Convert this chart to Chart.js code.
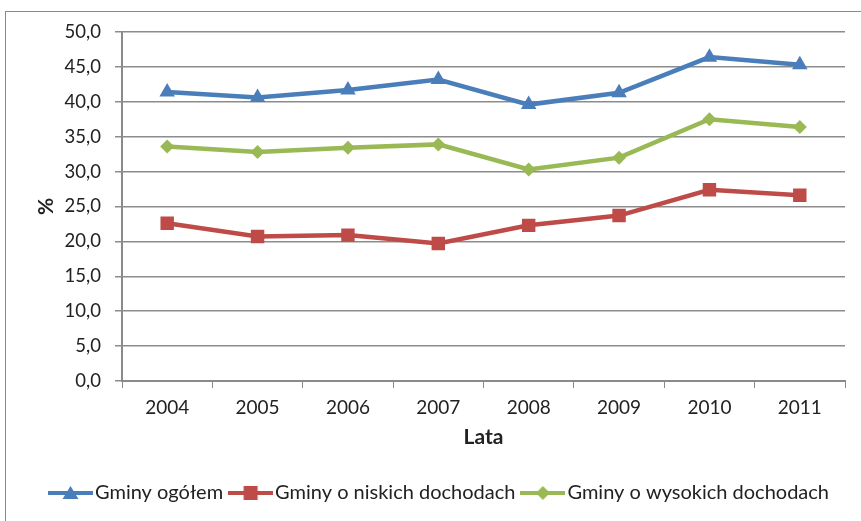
<!DOCTYPE html>
<html>
<head>
<meta charset="utf-8">
<script src="https://cdn.jsdelivr.net/npm/chart.js@4"></script>
<style>
  body { margin: 0; background: #fff; }
  #wrap { position: absolute; left: 0; top: 0; width: 861px; height: 521px; }
</style>
</head>
<body>
<div id="wrap"><canvas id="linechart" width="861" height="521"></canvas></div>
<script>
const years = ['2004', '2005', '2006', '2007', '2008', '2009', '2010', '2011'];
const ogolem = [41.4, 40.6, 41.7, 43.2, 39.6, 41.3, 46.4, 45.3];
const niskie = [22.6, 20.7, 20.9, 19.7, 22.3, 23.7, 27.4, 26.6];
const wysokie = [33.6, 32.8, 33.4, 33.9, 30.3, 32.0, 37.5, 36.4];

const font = "Lato, 'Open Sans', sans-serif";

// legend symbol: short line with marker in the middle
function legendIcon(color, shape) {
    const c = document.createElement('canvas');
    c.width = 45; c.height = 16;
    const g = c.getContext('2d');
    g.strokeStyle = color; g.fillStyle = color; g.lineWidth = 4;
    g.beginPath(); g.moveTo(0, 8); g.lineTo(45, 8); g.stroke();
    g.beginPath();
    if (shape === 'triangle') { g.moveTo(22.5, 1); g.lineTo(30.5, 14); g.lineTo(14.5, 14); g.closePath(); }
    else if (shape === 'rect') { g.rect(15.5, 1, 14, 14); }
    else { g.moveTo(22.5, 1); g.lineTo(29.5, 8); g.lineTo(22.5, 15); g.lineTo(15.5, 8); g.closePath(); }
    g.fill();
    return c;
}

const frame = {
    id: 'frame',
    beforeDraw(chart) {
        const g = chart.ctx;
        g.save();
        g.strokeStyle = '#8a8a8a'; g.lineWidth = 1;
        g.strokeRect(5.5, 11.5, 900, 600);
        g.restore();
    },
    afterLayout(chart) {
        // legend sits a little right of centre in the original
        chart.legend.left += 20;
        chart.legend.right += 20;
    }
};

new Chart(document.getElementById('linechart'), {
    type: 'line',
    data: {
        labels: years,
        datasets: [
            { label: 'Gminy ogółem', data: ogolem, borderColor: '#4a7ebb', backgroundColor: '#4a7ebb',
              pointStyle: 'triangle', pointRadius: 9, legendIcon: legendIcon('#4a7ebb', 'triangle') },
            { label: 'Gminy o niskich dochodach', data: niskie, borderColor: '#be4b48', backgroundColor: '#be4b48',
              pointStyle: 'rect', pointRadius: 9.5, legendIcon: legendIcon('#be4b48', 'rect') },
            { label: 'Gminy o wysokich dochodach', data: wysokie, borderColor: '#98b954', backgroundColor: '#98b954',
              pointStyle: 'rectRot', pointRadius: 7, legendIcon: legendIcon('#98b954', 'diamond') }
        ]
    },
    options: {
        responsive: false,
        animation: false,
        layout: { padding: { left: 0, right: 16, top: 32, bottom: 8 } },
        elements: { line: { borderWidth: 4.5, tension: 0 }, point: { borderWidth: 0 } },
        scales: {
            x: {
                offset: true,
                afterFit(scale) { scale.height = 89; },
                grid: { display: true, drawOnChartArea: false, drawTicks: true, tickLength: 7, offset: true, color: '#8a8a8a' },
                border: { color: '#8a8a8a', width: 2 },
                ticks: { color: '#222', font: { family: font, size: 19 }, padding: 8 },
                title: { display: true, text: 'Lata', color: '#222', font: { family: font, size: 21, weight: 'bold' }, padding: { top: 4, bottom: 20 } }
            },
            y: {
                min: 0, max: 50,
                afterFit(scale) { scale.width = 122; },
                grid: { color: '#8c8c8c', lineWidth: 1.5, tickLength: 7 },
                border: { color: '#8a8a8a', width: 2 },
                ticks: { stepSize: 5, color: '#222', font: { family: font, size: 18.5 }, padding: 14,
                         callback: v => v.toFixed(1).replace('.', ',') },
                title: { display: true, text: '%', color: '#222', font: { family: font, size: 21, weight: 'bold' }, padding: { top: 34 } }
            }
        },
        plugins: {
            legend: {
                position: 'bottom',
                labels: {
                    color: '#222', font: { family: font, size: 20 }, padding: 13,
                    usePointStyle: true, pointStyleWidth: 29,
                    generateLabels(chart) {
                        return chart.data.datasets.map((ds, i) => ({
                            text: ds.label, pointStyle: ds.legendIcon, fontColor: '#222',
                            datasetIndex: i, hidden: false, lineWidth: 0
                        }));
                    }
                }
            },
            tooltip: { enabled: false }
        }
    },
    plugins: [frame]
});
</script>
</body>
</html>
